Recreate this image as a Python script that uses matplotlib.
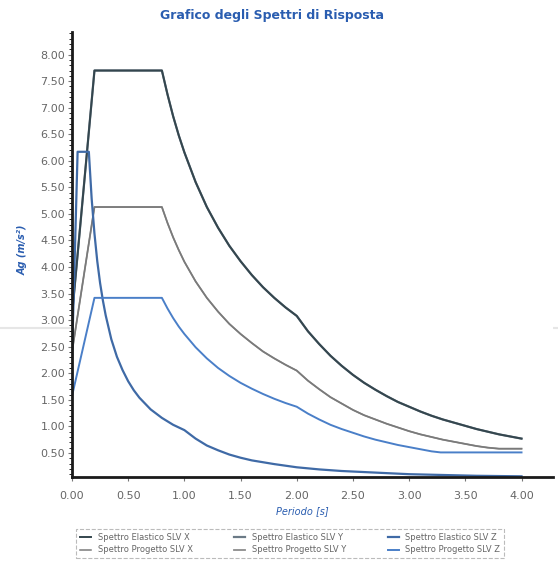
import numpy as np
import matplotlib.pyplot as plt
from matplotlib.lines import Line2D
from matplotlib.ticker import MultipleLocator, FormatStrFormatter

# Periodi e ordinate (Ag in m/s^2)
T_xy = [0.0, 0.2, 0.8, 0.85, 0.9, 0.95, 1.0, 1.1, 1.2, 1.3, 1.4, 1.5, 1.6, 1.7, 1.8, 1.9, 2.0,
        2.1, 2.2, 2.3, 2.4, 2.5, 2.6, 2.7, 2.8, 2.9, 3.0, 3.1, 3.2, 3.3, 3.4, 3.5, 3.6, 3.7, 3.8, 3.9, 4.0]
el_x = [3.08, 7.70, 7.70, 7.25, 6.84, 6.48, 6.16, 5.60, 5.13, 4.74, 4.40, 4.11, 3.85, 3.62, 3.42, 3.24, 3.08,
        2.79, 2.55, 2.33, 2.14, 1.97, 1.82, 1.69, 1.57, 1.46, 1.37, 1.28, 1.20, 1.13, 1.07, 1.01, 0.95, 0.90, 0.85, 0.81, 0.77]
el_y = el_x
pr_x = [2.40, 5.13, 5.13, 4.83, 4.56, 4.32, 4.10, 3.73, 3.42, 3.16, 2.93, 2.74, 2.57, 2.41, 2.28, 2.16, 2.05,
        1.86, 1.70, 1.55, 1.43, 1.31, 1.21, 1.13, 1.05, 0.98, 0.91, 0.85, 0.80, 0.75, 0.71, 0.67, 0.63, 0.60, 0.58, 0.58, 0.58]
pr_y = pr_x

T_pz = [0.0, 0.2, 0.8, 0.85, 0.9, 0.95, 1.0, 1.1, 1.2, 1.3, 1.4, 1.5, 1.6, 1.7, 1.8, 1.9, 2.0,
        2.1, 2.2, 2.3, 2.4, 2.5, 2.6, 2.7, 2.8, 2.9, 3.0, 3.1, 3.2, 3.28, 4.0]
pr_z = [1.57, 3.42, 3.42, 3.22, 3.04, 2.88, 2.74, 2.49, 2.28, 2.10, 1.95, 1.82, 1.71, 1.61, 1.52, 1.44, 1.37,
        1.24, 1.13, 1.03, 0.95, 0.88, 0.81, 0.75, 0.70, 0.65, 0.61, 0.57, 0.53, 0.51, 0.51]

T_ez = [0.0, 0.05, 0.15, 0.175, 0.2, 0.225, 0.25, 0.275, 0.3, 0.35, 0.4, 0.45, 0.5, 0.55, 0.6, 0.7, 0.8, 0.9, 1.0,
        1.1, 1.2, 1.3, 1.4, 1.5, 1.6, 1.8, 2.0, 2.2, 2.4, 2.6, 2.8, 3.0, 3.2, 3.6, 4.0]
el_z = [2.30, 6.17, 6.17, 5.29, 4.63, 4.11, 3.70, 3.37, 3.09, 2.64, 2.31, 2.06, 1.85, 1.68, 1.54, 1.32, 1.16, 1.03, 0.93,
        0.77, 0.64, 0.55, 0.47, 0.41, 0.36, 0.29, 0.23, 0.19, 0.16, 0.14, 0.12, 0.10, 0.09, 0.07, 0.06]

x_ticks = [0.0, 0.5, 1.0, 1.5, 2.0, 2.5, 3.0, 3.5, 4.0]
y_ticks = [0.5, 1.0, 1.5, 2.0, 2.5, 3.0, 3.5, 4.0, 4.5, 5.0, 5.5, 6.0, 6.5, 7.0, 7.5, 8.0]

fig = plt.figure(figsize=(5.58, 5.67), dpi=100)
ax = fig.add_axes([0.129, 0.159, 0.862, 0.785])

# linea chiara della scansione
fig.add_artist(Line2D([0, 1], [0.421, 0.421], color='#e6e6e6', lw=1.5, zorder=0))

ax.plot(T_xy, el_y, color='#6b7a86', lw=1.6, label='Spettro Elastico SLV Y')
ax.plot(T_xy, el_x, color='#34464e', lw=1.4, label='Spettro Elastico SLV X')
ax.plot(T_xy, pr_y, color='#8c8c8c', lw=1.3, label='Spettro Progetto SLV Y')
ax.plot(T_xy, pr_x, color='#7a7a7a', lw=1.1, label='Spettro Progetto SLV X')
ax.plot(T_ez, el_z, color='#3f6aa6', lw=1.6, label='Spettro Elastico SLV Z')
ax.plot(T_pz, pr_z, color='#4a7fc8', lw=1.4, label='Spettro Progetto SLV Z')

ax.set_xlim(0, 4.28)
ax.set_ylim(0.05, 8.43)
ax.set_xticks(x_ticks)
ax.set_yticks(y_ticks)
ax.yaxis.set_minor_locator(MultipleLocator(0.1))
ax.xaxis.set_major_formatter(FormatStrFormatter('%.2f'))
ax.yaxis.set_major_formatter(FormatStrFormatter('%.2f'))
ax.tick_params(axis='both', colors='#777777', labelcolor='#666666', labelsize=8)
ax.tick_params(axis='x', length=3, width=0.8, pad=7)
ax.tick_params(axis='y', length=3, width=0.8, pad=2)
ax.tick_params(axis='y', which='minor', length=2, width=0.6)

for s in ['top', 'right']:
    ax.spines[s].set_visible(False)
for s in ['left', 'bottom']:
    ax.spines[s].set_linewidth(2)
    ax.spines[s].set_color('#1a1a1a')

fig.text(0.488, 0.972, 'Grafico degli Spettri di Risposta', ha='center', va='center',
         color='#2a5db0', fontsize=9, fontweight='bold')
fig.text(0.04, 0.56, 'Ag (m/s²)', rotation=90, ha='center', va='center',
         color='#2a5db0', fontsize=7, fontweight='bold', style='italic')
fig.text(0.541, 0.098, 'Periodo [s]', ha='center', va='center',
         color='#2a5db0', fontsize=7, style='italic')

h = {l.get_label(): l for l in ax.get_lines()}
order = ['Spettro Elastico SLV X', 'Spettro Progetto SLV X',
         'Spettro Elastico SLV Y', 'Spettro Progetto SLV Y',
         'Spettro Elastico SLV Z', 'Spettro Progetto SLV Z']
leg = fig.legend([h[k] for k in order], order, ncol=3, loc='center',
                 bbox_to_anchor=(0.52, 0.041), fontsize=6, frameon=True,
                 fancybox=False, handlelength=1.3, columnspacing=5.0,
                 handletextpad=0.8, labelspacing=0.4, borderpad=0.45)
leg.get_frame().set_edgecolor('#aaaaaa')
leg.get_frame().set_linestyle('--')
leg.get_frame().set_linewidth(0.8)
for t in leg.get_texts():
    t.set_color('#666666')

fig.savefig('out.png', dpi=100)
